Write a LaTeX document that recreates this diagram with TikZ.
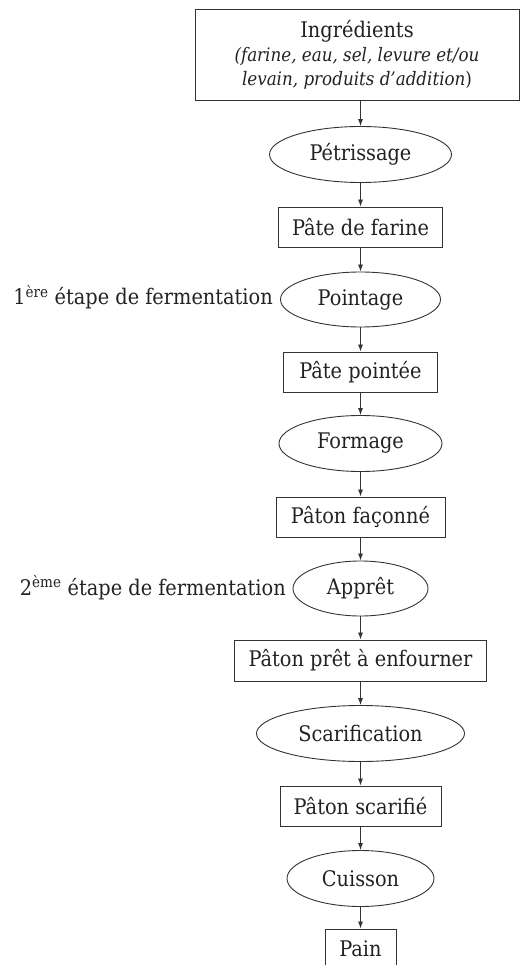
\documentclass[tikz,border=0pt]{standalone}
\usepackage{fontspec}
\setmainfont{DejaVu Serif Condensed}
\usetikzlibrary{shapes.geometric,arrows.meta}
\definecolor{txt}{HTML}{222222}
\definecolor{ln}{HTML}{333333}
\newcommand{\itsz}{\fontsize{18.6}{24}\selectfont}
\begin{document}
\begin{tikzpicture}[x=1pt,y=-1pt,
  every node/.style={text=txt,font=\fontsize{21.5}{24}\selectfont},
  stepbox/.style={draw=ln,rectangle,inner sep=0pt,line width=0.9pt,minimum height=40pt},
  oval/.style={draw=ln,ellipse,inner sep=0pt,line width=0.9pt,minimum height=56pt},
  arr/.style={draw=ln,line width=0.8pt,-{Latex[length=7pt,width=5pt]}},
  lbl/.style={anchor=base east,inner sep=0pt}]
\useasboundingbox (0,0) rectangle (520,965);
\node[stepbox,minimum width=324pt,minimum height=91pt,align=center] (ing) at (357,54.5)
  {Ingrédients\\{\itsz\textit{(farine, eau, sel, levure et/ou}}\\{\itsz\textit{levain, produits d'addition})}};
\node[oval,minimum width=182pt] (pet) at (360.5,154.5) {Pétrissage};
\node[stepbox,minimum width=164pt] (pdf) at (360.5,227) {Pâte de farine};
\node[oval,minimum width=160pt,minimum height=55pt] (poi) at (360.5,299.5) {Pointage};
\node[stepbox,minimum width=154pt] (ppt) at (360.5,372) {Pâte pointée};
\node[oval,minimum width=163pt] (frm) at (360.5,443.5) {Formage};
\node[stepbox,minimum width=169pt] (pfa) at (360.5,517) {Pâton façonné};
\node[oval,minimum width=135pt,minimum height=55pt] (app) at (360.5,588.5) {Apprêt};
\node[stepbox,minimum width=252pt,minimum height=41pt] (ppe) at (360.5,660.5) {Pâton prêt à enfourner};
\node[oval,minimum width=208pt] (sca) at (360.5,733.5) {Scarification};
\node[stepbox,minimum width=161pt] (psc) at (360.5,806) {Pâton scarifié};
\node[oval,minimum width=147pt] (cui) at (360.5,878.5) {Cuisson};
\node[stepbox,minimum width=71pt] (pain) at (360.5,949) {Pain};
\node[lbl] (l1) at (273,305) {1\textsuperscript{ère} étape de fermentation};
\node[lbl] (l2) at (286,595) {2\textsuperscript{ème} étape de fermentation};
\draw[arr] (pet.north |- ing.south) -- (pet.north);
\draw[arr] (pet) -- (pdf);
\draw[arr] (pdf) -- (poi);
\draw[arr] (poi) -- (ppt);
\draw[arr] (ppt) -- (frm);
\draw[arr] (frm) -- (pfa);
\draw[arr] (pfa) -- (app);
\draw[arr] (app) -- (ppe);
\draw[arr] (ppe) -- (sca);
\draw[arr] (sca) -- (psc);
\draw[arr] (psc) -- (cui);
\draw[arr] (cui) -- (pain);
\end{tikzpicture}
\end{document}
